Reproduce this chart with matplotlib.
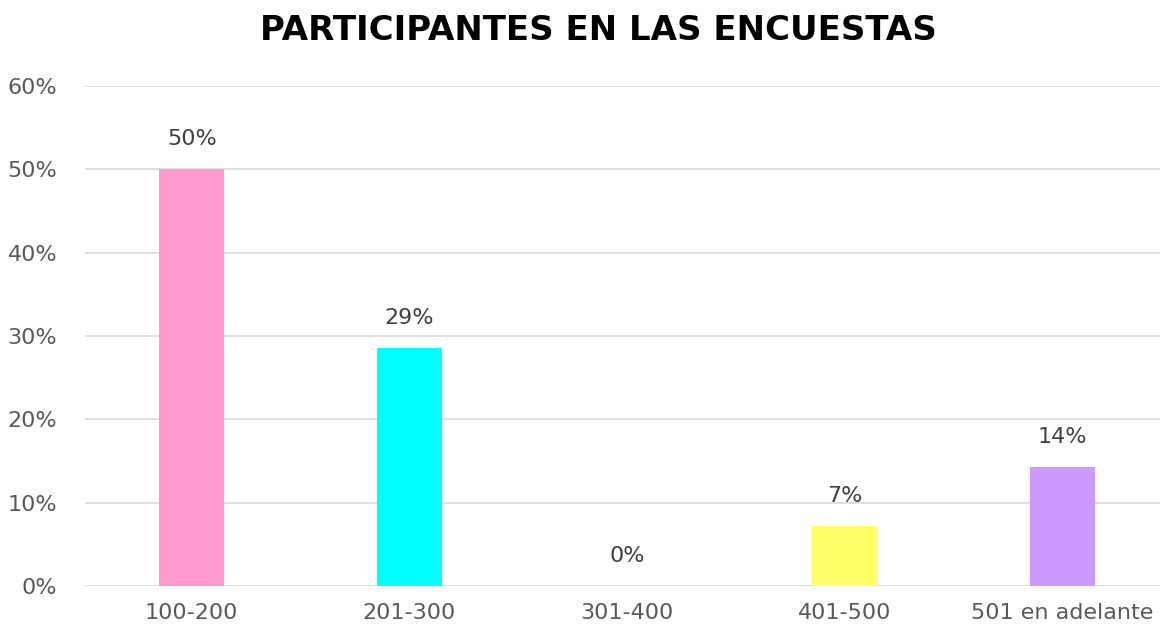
import matplotlib
matplotlib.use("Agg")
import matplotlib.pyplot as plt
from matplotlib.ticker import PercentFormatter

categories = ["100-200", "201-300", "301-400", "401-500", "501 en adelante"]
values = [50.0, 28.57, 0.0, 7.14, 14.29]
labels = ["50%", "29%", "0%", "7%", "14%"]
colors = ["#FF99CC", "#00FFFF", "#FFFFFF", "#FFFF66", "#CC99FF"]
title = "PARTICIPANTES EN LAS ENCUESTAS"

fig = plt.figure(figsize=(11.65, 6.35), dpi=100)
ax = fig.add_axes([0.073, 0.0772, 0.923, 0.7874])

x = range(len(categories))
bars = ax.bar(x, values, width=0.3, color=colors, zorder=3)
for xi, v, lab in zip(x, values, labels):
    ax.text(xi, v + 2.9, lab, ha="center", va="baseline", fontsize=16,
            color="#404040", family="DejaVu Sans")

ax.set_ylim(0, 60)
ax.set_xlim(-0.49, 4.45)
ax.set_yticks(range(0, 61, 10))
ax.yaxis.set_major_formatter(PercentFormatter(decimals=0))
ax.set_xticks(list(x))
ax.set_xticklabels(categories)
ax.grid(axis="y", color="#D9D9D9", linewidth=1.2, zorder=0)
for s in ax.spines.values():
    s.set_visible(False)
ax.tick_params(axis="both", length=0, labelsize=16, labelcolor="#595959")
ax.tick_params(axis="y", pad=20)
ax.tick_params(axis="x", pad=12)
for t in ax.get_xticklabels() + ax.get_yticklabels():
    t.set_family("DejaVu Sans")

fig.text(0.514, 0.952, title, ha="center", va="center", fontsize=24.5,
         fontweight="bold", family="DejaVu Sans", color="#000000")

fig.savefig("out.png", dpi=100, facecolor="white")
